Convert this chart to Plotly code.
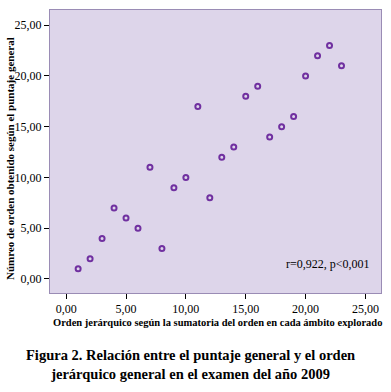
import plotly.graph_objects as go

orden_jerarquico = [1, 2, 3, 4, 5, 6, 7, 8, 9, 10, 11, 12, 13, 14, 15, 16, 17, 18, 19, 20, 21, 22, 23]
orden_puntaje = [1, 2, 4, 7, 6, 5, 11, 3, 9, 10, 17, 8, 12, 13, 18, 19, 14, 15, 16, 20, 22, 23, 21]
tick_vals = [0, 5, 10, 15, 20, 25]
tick_text = ["0,00", "5,00", "10,00", "15,00", "20,00", "25,00"]

FONT = "Liberation Serif, Times New Roman, serif"

W, H = 391, 392
l, r, t, b = 50, 10, 10, 99
pw, ph = W - l - r, H - t - b

def px2paper(px, py):
    return (px - l) / pw, 1 - (py - t) / ph

fig = go.Figure()
fig.add_trace(go.Scatter(
    x=orden_jerarquico, y=orden_puntaje, mode="markers",
    marker=dict(symbol="circle-open", size=5, color="#7030A0", line=dict(width=2, color="#7030A0")),
    showlegend=False, hoverinfo="skip"))

ax_x, ax_y = px2paper(217, 322)
ay_x, ay_y = px2paper(10, 159)
cap_x, cap_y = px2paper(190, 364)
r_x, r_y = px2paper(372, 264)

fig.update_layout(
    width=W, height=H,
    margin=dict(l=l, r=r, t=t, b=b, autoexpand=False),
    paper_bgcolor="white", plot_bgcolor="#DDD5EA",
    font=dict(family=FONT, color="black"),
    xaxis=dict(range=[-1.35, 26.3], tickvals=tick_vals, ticktext=tick_text,
               ticks="outside", ticklen=5, tickcolor="black", showgrid=False, zeroline=False,
               showline=True, linecolor="#9A8CB5", linewidth=1, mirror=True, automargin=False,
               tickfont=dict(size=12, family=FONT)),
    yaxis=dict(range=[-1.38, 26.5], tickvals=tick_vals, ticktext=tick_text,
               ticks="outside", ticklen=5, tickcolor="black", showgrid=False, zeroline=False,
               showline=True, linecolor="#9A8CB5", linewidth=1, mirror=True, automargin=False,
               tickfont=dict(size=12, family=FONT)),
    annotations=[
        dict(text="r=0,922, p<0,001", x=r_x, y=r_y, xref="paper", yref="paper",
             xanchor="right", yanchor="middle", showarrow=False, font=dict(size=12, family=FONT)),
        dict(text="<b>Orden jerárquico según la sumatoria del orden en cada ámbito explorado</b>",
             x=ax_x, y=ax_y, xref="paper", yref="paper", showarrow=False,
             xanchor="center", yanchor="middle", font=dict(size=10.5, family=FONT)),
        dict(text="<b>Númreo de orden obtenido según el puntaje general</b>",
             x=ay_x, y=ay_y, xref="paper", yref="paper", showarrow=False, textangle=-90,
             xanchor="center", yanchor="middle", font=dict(size=11, family=FONT)),
        dict(text="<b>Figura 2. Relación entre el puntaje general y el orden<br>jerárquico general en el examen del año 2009</b>",
             x=cap_x, y=cap_y, xref="paper", yref="paper", showarrow=False,
             xanchor="center", yanchor="middle", font=dict(size=14.5, family=FONT)),
    ],
)

fig.write_html("out.html", config={"displayModeBar": False},
               post_script="document.body.style.margin='0';document.body.style.overflow='hidden';")
